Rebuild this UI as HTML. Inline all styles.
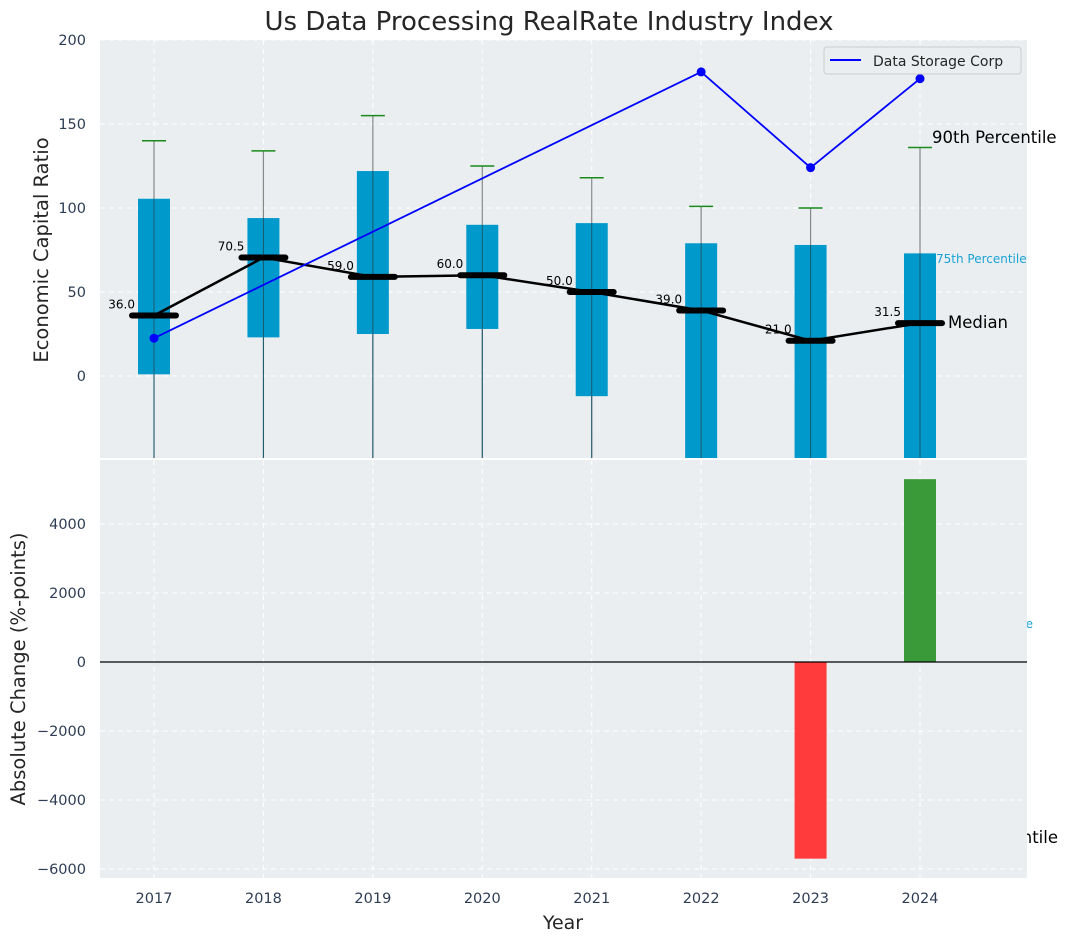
<!DOCTYPE html>
<html><head><meta charset="utf-8"><style>
body{margin:0;background:#fff;}
svg{display:block;font-family:"DejaVu Sans","Liberation Sans",sans-serif;}
</style></head><body>
<svg id="chart" width="1067" height="942" viewBox="0 0 1067 942"></svg>
<script>
const years=[2017,2018,2019,2020,2021,2022,2023,2024];
const q1=[1,23,25,28,-12,-60,-60,-60];
const q3=[105.5,94,122,90,91,79,78,73];
const p90=[140,134,155,125,118,101,100,136];
const medians=[36.0,70.5,59.0,60.0,50.0,39.0,21.0,31.5];
const corpYears=[2017,2022,2023,2024];
const corpVals=[22.5,181,124,177];
const changeYears=[2023,2024];
const changeVals=[-5700,5300];
const topTicks=[0,50,100,150,200];
const botTicks=[-6000,-4000,-2000,0,2000,4000];

const NS="http://www.w3.org/2000/svg";
const svg=document.getElementById('chart');
function mk(t,a,p){const e=document.createElementNS(NS,t);for(const k in a)e.setAttribute(k,a[k]);(p||svg).appendChild(e);return e;}
const L=100,R=1027;
const x=v=>154+(v-2017)*109.43;
const yT=v=>376-v*1.68;
const yB=v=>662-v*0.0345;

let t=mk('text',{x:1033,y:628,'font-size':12,fill:'#1aa3d6','text-anchor':'end'});t.textContent='25th Percentile';

t=mk('text',{x:1058,y:843,'font-size':16.5,fill:'#000','text-anchor':'end'});t.textContent='10th Percentile';


t=mk('text',{x:549,y:30,'font-size':26,fill:'#262626','text-anchor':'middle'});t.textContent='Us Data Processing RealRate Industry Index';


const gT=mk('g',{});
mk('rect',{x:L,y:40,width:R-L,height:418,fill:'#eaeef0'},gT);
mk('clipPath',{id:'cT'}).appendChild(mk('rect',{x:L,y:40,width:R-L,height:418}));
topTicks.forEach(v=>{mk('line',{x1:L,x2:R,y1:yT(v),y2:yT(v),stroke:'#fff','stroke-dasharray':'5,4'},gT);
 const tt=mk('text',{x:86,y:yT(v)+5,'font-size':14.5,fill:'#2e3d55','text-anchor':'end'},gT);tt.textContent=v;
 });
years.forEach(v=>mk('line',{x1:x(v),x2:x(v),y1:40,y2:458,stroke:'#fff','stroke-dasharray':'5,4'},gT));
const cg=mk('g',{'clip-path':'url(#cT)'},gT);
years.forEach((yr,i)=>{
 const X=x(yr);
 mk('line',{x1:X,x2:X,y1:yT(p90[i]),y2:470,stroke:'#888','stroke-width':1.2},cg);
 const b=mk('rect',{x:X-16,y:yT(q3[i]),width:32,height:yT(q1[i])-yT(q3[i]),fill:'#0099cc'},cg);
 
 mk('line',{x1:X,x2:X,y1:yT(q3[i]),y2:470,stroke:'#1a5a70','stroke-width':1},cg);
 const w=mk('line',{x1:X-12,x2:X+12,y1:yT(p90[i]),y2:yT(p90[i]),stroke:'#1a8a1a','stroke-width':1.5},cg);
 
});
mk('polyline',{points:years.map((yr,i)=>x(yr)+','+yT(medians[i])).join(' '),fill:'none',stroke:'#000','stroke-width':2.5},cg);
years.forEach((yr,i)=>{
 const m=mk('line',{x1:x(yr)-22,x2:x(yr)+22,y1:yT(medians[i]),y2:yT(medians[i]),stroke:'#000','stroke-width':6,'stroke-linecap':'round'},cg);
 
 const l=mk('text',{x:x(yr)-19,y:yT(medians[i])-7,'font-size':12,fill:'#000','text-anchor':'end'},gT);l.textContent=medians[i].toFixed(1);
 
});
const cl=mk('polyline',{points:corpYears.map((yr,i)=>x(yr)+','+yT(corpVals[i])).join(' '),fill:'none',stroke:'#0000ff','stroke-width':1.8},cg);

corpYears.forEach((yr,i)=>{const c=mk('circle',{cx:x(yr),cy:yT(corpVals[i]),r:4.5,fill:'#0000ff'},cg);
 });
t=mk('text',{x:932,y:143,'font-size':16.5,fill:'#000'});t.textContent='90th Percentile';
t=mk('text',{x:936,y:263,'font-size':12,fill:'#1aa3d6'});t.textContent='75th Percentile';
t=mk('text',{x:948,y:328,'font-size':16.5,fill:'#000'});t.textContent='Median';
const lg=mk('g',{});
mk('rect',{x:824,y:47,width:197,height:27,rx:3,fill:'#eaeef0',stroke:'#ccc'},lg);
mk('line',{x1:830,x2:861,y1:60,y2:60,stroke:'#0000ff','stroke-width':2},lg);
t=mk('text',{x:873,y:66,'font-size':14,fill:'#262626'},lg);t.textContent='Data Storage Corp';
t=mk('text',{x:48,y:250,'font-size':19.5,fill:'#262626','text-anchor':'middle',transform:'rotate(-90 48 250)'});t.textContent='Economic Capital Ratio';


const gB=mk('g',{});
mk('rect',{x:L,y:460,width:R-L,height:418,fill:'#eaeef0'},gB);
botTicks.forEach(v=>{mk('line',{x1:L,x2:R,y1:yB(v),y2:yB(v),stroke:'#fff','stroke-dasharray':'5,4'},gB);
 const tt=mk('text',{x:86,y:yB(v)+5,'font-size':14.5,fill:'#2e3d55','text-anchor':'end'},gB);tt.textContent=(v<0?'\u2212'+(-v):v);
 });
years.forEach(v=>{mk('line',{x1:x(v),x2:x(v),y1:460,y2:878,stroke:'#fff','stroke-dasharray':'5,4'},gB);
 const tt=mk('text',{x:x(v),y:903,'font-size':14.5,fill:'#2e3d55','text-anchor':'middle'},gB);tt.textContent=v;
 });
changeYears.forEach((yr,i)=>{const v=changeVals[i];
 const b=mk('rect',{x:x(yr)-16,y:Math.min(yB(v),yB(0)),width:32,height:Math.abs(yB(v)-yB(0)),fill:v<0?'#ff3b3b':'#3a9a3a'},gB);
 });
mk('line',{x1:L,x2:R,y1:yB(0),y2:yB(0),stroke:'#000','stroke-width':1.3},gB);
t=mk('text',{x:25,y:669,'font-size':19.5,fill:'#262626','text-anchor':'middle',transform:'rotate(-90 25 669)'});t.textContent='Absolute Change (%-points)';

t=mk('text',{x:563,y:929,'font-size':19,fill:'#262626','text-anchor':'middle'});t.textContent='Year';

</script>
</body></html>
